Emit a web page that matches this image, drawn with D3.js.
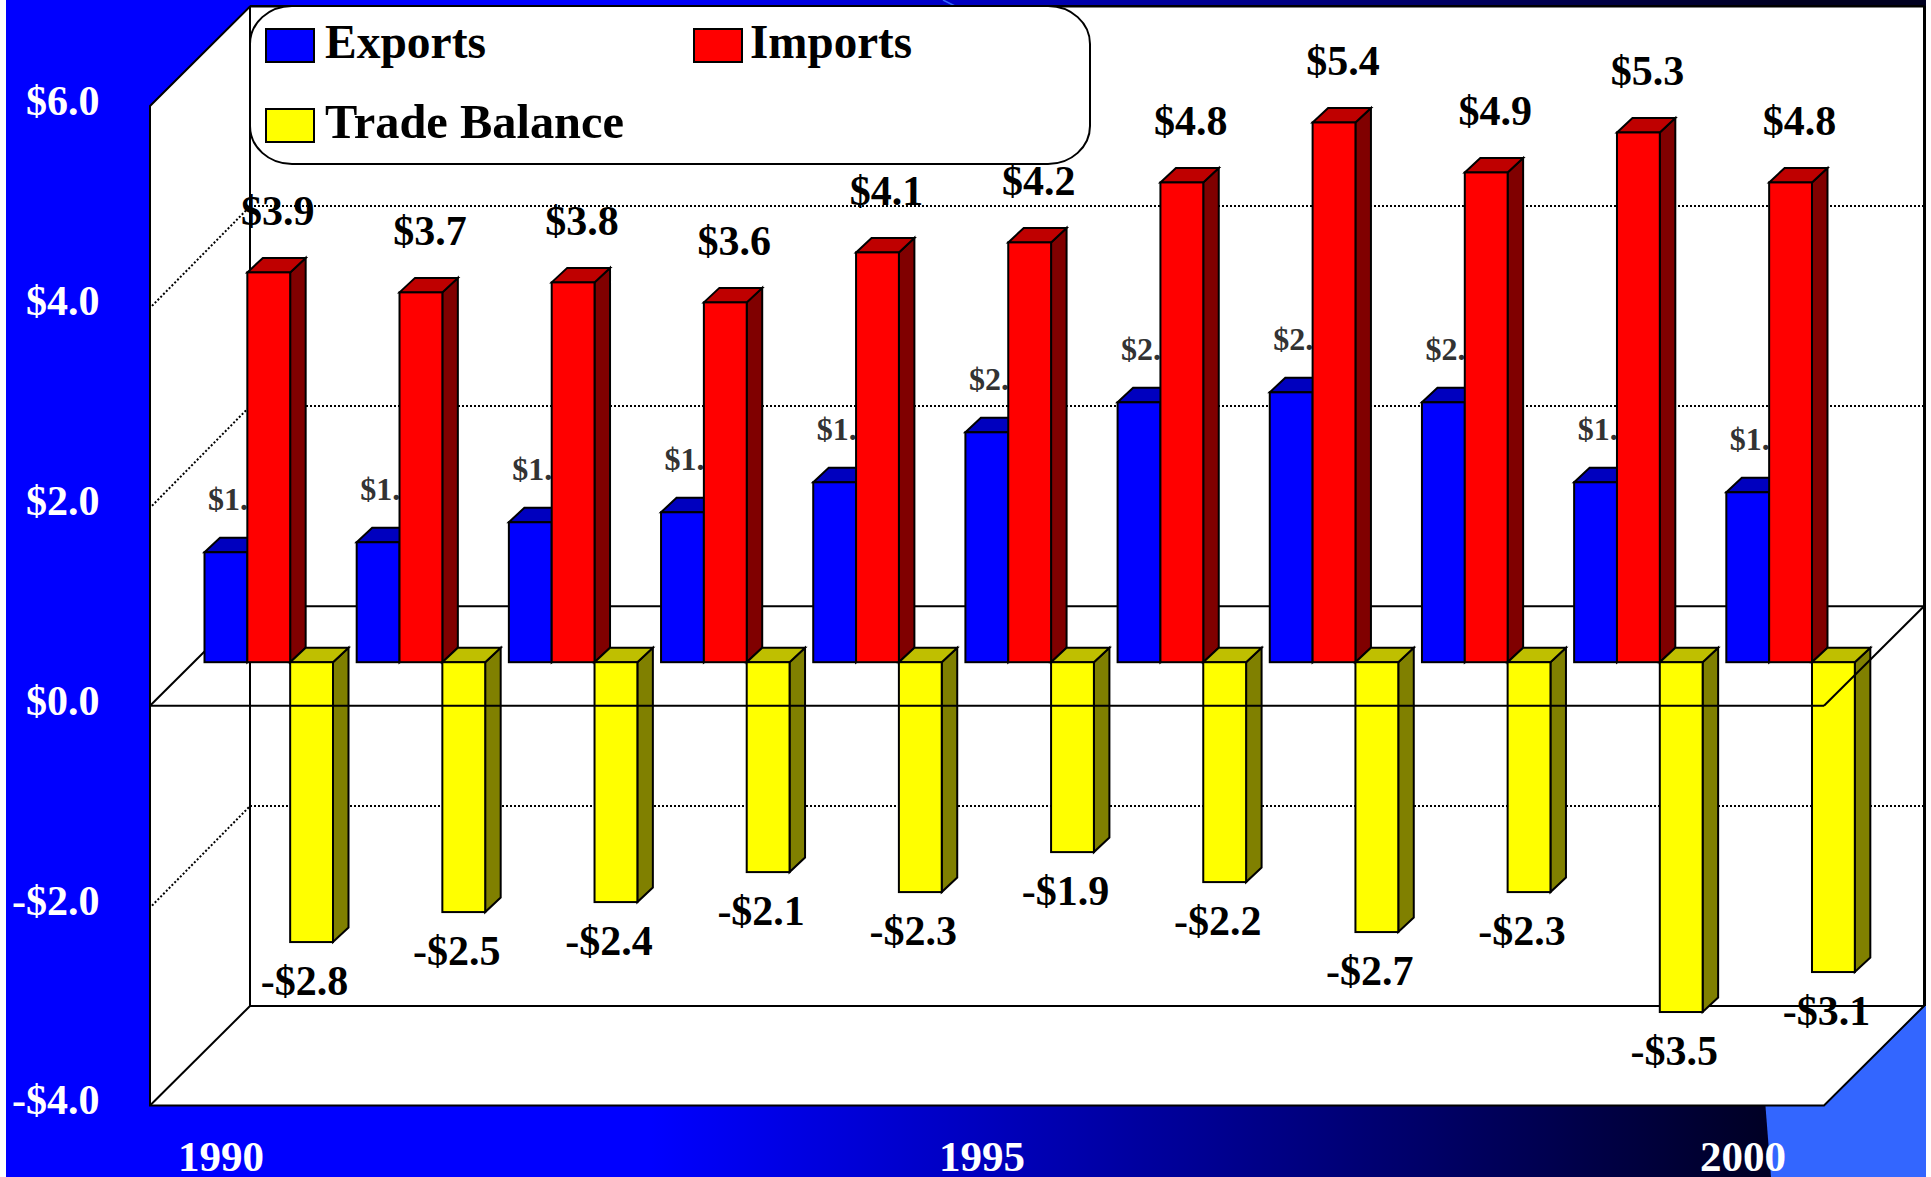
<!DOCTYPE html>
<html><head><meta charset="utf-8">
<script src="https://cdn.jsdelivr.net/npm/d3@7/dist/d3.min.js"></script>
<style>html,body{margin:0;padding:0;background:#fff;overflow:hidden}svg{display:block}
text{font-family:"Liberation Serif","Times New Roman",serif;font-weight:bold}</style>
</head><body><svg id="c" width="1931" height="1177"></svg>
<script>
const years = [1990,1991,1992,1993,1994,1995,1996,1997,1998,1999,2000];
const exportsVals = [1.1,1.2,1.4,1.5,1.8,2.3,2.6,2.7,2.6,1.8,1.7];
const importsVals = [3.9,3.7,3.8,3.6,4.1,4.2,4.8,5.4,4.9,5.3,4.8];
const balanceVals = [-2.8,-2.5,-2.4,-2.1,-2.3,-1.9,-2.2,-2.7,-2.3,-3.5,-3.1];
const yTicks = [6,4,2,0,-2,-4];
const xTicks = [1990,1995,2000];
const gridVals = [4,2,-2];
const legendNames = ["Exports","Imports","Trade Balance"];

const svg = d3.select("#c");
const L=150,R=1824,TOP=106,BOT=1105.5,WX=100,WY=99.5; // front plane and wall depth
const BDY=43.5, BDX=15.5, BDZ=14.5;                    // bar plane depth, bar depth
const y = d3.scaleLinear().domain([-4,6]).range([BOT,TOP]);
const x = d3.scaleBand().domain(years).range([L,R]);
const inner = d3.scaleBand().domain(["e","i","b"]).range([54.5,183]);
const money = v => (v<0?"-":"")+"$"+Math.abs(v).toFixed(1);
const pts = a => a.map(p=>p.join(",")).join(" ");

// background
const grad = svg.append("defs").append("linearGradient").attr("id","bg")
  .attr("gradientUnits","userSpaceOnUse").attr("x1",650).attr("x2",1790).attr("y1",0).attr("y2",0);
grad.append("stop").attr("offset",0).attr("stop-color","#0000ff");
grad.append("stop").attr("offset",1).attr("stop-color","#000020");
svg.append("rect").attr("x",6).attr("y",0).attr("width",1920).attr("height",1177).attr("fill","url(#bg)");
svg.append("polygon").attr("points",pts([[1765,1100],[1771,1177],[1926,1177],[1926,990],[1765,990]])).attr("fill","#3366ff");
svg.append("line").attr("x1",943).attr("y1",0).attr("x2",955).attr("y2",6).attr("stroke","#3366ff").attr("stroke-width",1.5);

// plot walls
svg.append("polygon").attr("fill","#fff").attr("stroke","#000").attr("stroke-width",2)
  .attr("points",pts([[L,y(6)],[L+WX,y(6)-WY],[R+WX,y(6)-WY],[R+WX,y(-4)-WY],[R,y(-4)],[L,y(-4)]]));
svg.append("line").attr("x1",R+WX+.5).attr("x2",R+WX+.5).attr("y1",6).attr("y2",y(-4)-WY).attr("stroke","#000").attr("stroke-width",3);
svg.append("line").attr("x1",L+WX).attr("x2",R+WX).attr("y1",6).attr("y2",6).attr("stroke","#000").attr("stroke-width",2);
const wall = svg.append("g").attr("stroke","#000").attr("stroke-width",2);
wall.append("line").attr("x1",L+WX).attr("x2",L+WX).attr("y1",y(6)-WY).attr("y2",y(-4)-WY);
wall.append("line").attr("x1",L+WX).attr("x2",R+WX).attr("y1",y(-4)-WY).attr("y2",y(-4)-WY);
wall.append("line").attr("x1",L).attr("x2",L+WX).attr("y1",y(-4)).attr("y2",y(-4)-WY);
wall.append("line").attr("x1",L+WX).attr("x2",R+WX).attr("y1",y(0)-WY).attr("y2",y(0)-WY);
wall.append("line").attr("x1",L).attr("x2",L+WX).attr("y1",y(0)).attr("y2",y(0)-WY);
const dots = svg.append("g").attr("stroke","#000").attr("stroke-width",2).attr("stroke-dasharray","2 2");
gridVals.forEach(v=>{
  dots.append("line").attr("x1",L+WX).attr("x2",R+WX).attr("y1",Math.round(y(v)-WY)).attr("y2",Math.round(y(v)-WY));
  dots.append("line").attr("x1",L+2).attr("x2",L+WX).attr("y1",y(v)).attr("y2",y(v)-WY);
});

// legend box (behind bars and value labels)
const legend = svg.append("g");
legend.append("rect").attr("x",250).attr("y",6).attr("width",840).attr("height",158).attr("rx",42).attr("ry",38)
  .attr("fill","#fff").attr("stroke","#000").attr("stroke-width",2);
const legendPos = [[266,29],[694,29],[266,109]];
const legendCol = ["#0000ff","#ff0000","#ffff00"];
const legendTextX = [325,750,325];
const legendTextW = [161,162,299];
legendNames.forEach((n,i)=>{
  legend.append("rect").attr("x",legendPos[i][0]).attr("y",legendPos[i][1]).attr("width",48).attr("height",33)
    .attr("fill",legendCol[i]).attr("stroke","#000").attr("stroke-width",2);
  legend.append("text").attr("x",legendTextX[i]).attr("y",legendPos[i][1]+29).attr("font-size",48).attr("fill","#000")
    .attr("textLength",legendTextW[i]).attr("lengthAdjust","spacingAndGlyphs").text(n);
});

// bars
function bar(g,key,yr,v,fF,fT,fS){
  const bx = x(yr)+inner(key), w = inner.bandwidth();
  const y0 = y(0)-BDY, yv = y(v)-BDY;
  const t = Math.min(y0,yv), b = Math.max(y0,yv);
  const st = {stroke:"#000","stroke-width":2,"stroke-linejoin":"miter"};
  const add = (sel)=>{for(const k in st) sel.attr(k,st[k]); return sel;};
  add(g.append("polygon")).attr("fill",fS).attr("points",pts([[bx+w,t],[bx+w+BDX,t-BDZ],[bx+w+BDX,b-BDZ],[bx+w,b]]));
  add(g.append("polygon")).attr("fill",fT).attr("points",pts([[bx,t],[bx+BDX,t-BDZ],[bx+w+BDX,t-BDZ],[bx+w,t]]));
  add(g.append("rect")).attr("fill",fF).attr("x",bx).attr("y",t).attr("width",w).attr("height",b-t);
  return {bx,w,t,b};
}
const barsG = svg.append("g");
const labelsG = svg.append("g");
years.forEach((yr,i)=>{
  const g = barsG.append("g");
  const e = bar(g,"e",yr,exportsVals[i],"#0000ff","#0000bf","#000080");
  g.append("text").attr("x",e.bx+3.5).attr("y",e.t-42).attr("font-size",32).attr("fill","#333333").text(money(exportsVals[i]));
  const m = bar(g,"i",yr,importsVals[i],"#ff0000","#bf0000","#800000");
  labelsG.append("text").attr("x",m.bx+m.w/2+9).attr("y",m.t-47).attr("text-anchor","middle").attr("font-size",42).attr("fill","#000").text(money(importsVals[i]));
  const t = bar(g,"b",yr,balanceVals[i],"#ffff00","#bfbf00","#808000");
  labelsG.append("text").attr("x",t.bx+t.w/2-7).attr("y",t.b+53).attr("text-anchor","middle").attr("font-size",42).attr("fill","#000").text(money(balanceVals[i]));
});

// front zero edge sits above the bars
const front = svg.append("g").attr("stroke","#000").attr("stroke-width",2);
front.append("line").attr("x1",L).attr("x2",R).attr("y1",y(0)).attr("y2",y(0));
front.append("line").attr("x1",R).attr("x2",R+WX).attr("y1",y(0)).attr("y2",y(0)-WY);
svg.node().appendChild(labelsG.node());

// axes
const ya = svg.append("g").attr("transform","translate(99.5,0)")
  .call(d3.axisLeft(y).tickValues(yTicks).tickSize(0).tickPadding(0).tickFormat(money));
ya.select(".domain").remove();
ya.selectAll("text").attr("dy","0.2em").attr("fill","#fff").attr("font-size",42)
  .style("font-family",'"Liberation Serif",serif').style("font-weight","bold");
const xa = svg.append("g").attr("transform","translate(-5,1171)")
  .call(d3.axisBottom(x).tickValues(xTicks).tickSize(0).tickPadding(0));
xa.select(".domain").remove();
xa.selectAll("text").attr("y",0).attr("dy",0).attr("fill","#fff").attr("font-size",43)
  .style("font-family",'"Liberation Serif",serif').style("font-weight","bold");
</script></body></html>
